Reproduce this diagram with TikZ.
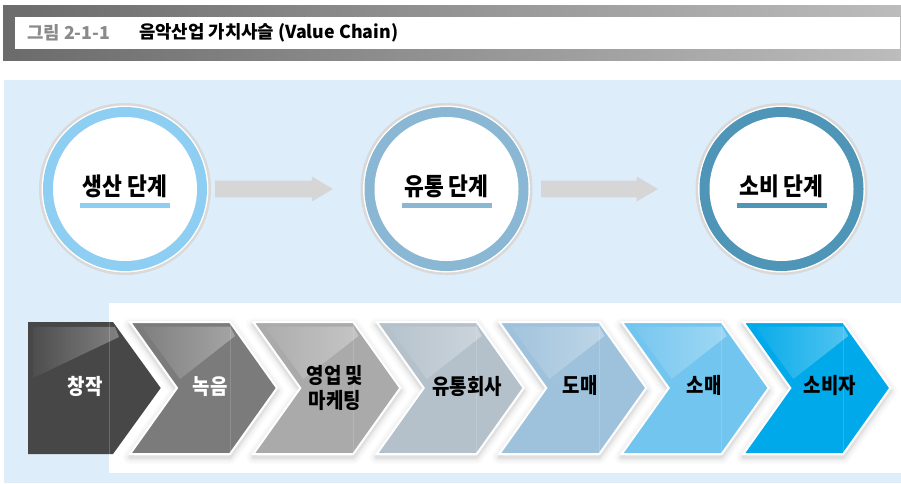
\documentclass[tikz,border=0pt]{standalone}
\usepackage{fontspec}
\newfontfamily\kr{Noto Sans CJK KR}
\newfontfamily\krn{Noto Sans CJK KR}[FakeStretch=0.88]
\usetikzlibrary{calc,fadings}
\definecolor{bgblue}{HTML}{DEEDFA}
\definecolor{ringgray}{HTML}{D9D9D9}
\definecolor{arrgray}{HTML}{D6D6D6}
\definecolor{ringA}{HTML}{8ECEF2}
\definecolor{ringB}{HTML}{8AB7D3}
\definecolor{ringC}{HTML}{4F95B8}
\definecolor{chA}{HTML}{474747}
\definecolor{chB}{HTML}{7B7B7B}
\definecolor{chC}{HTML}{AAAAAA}
\definecolor{chD}{HTML}{B4C1CB}
\definecolor{chE}{HTML}{9FC2DC}
\definecolor{chF}{HTML}{72C5EF}
\definecolor{chG}{HTML}{00A9EA}
\definecolor{titleL}{HTML}{6B6B6B}
\definecolor{titleR}{HTML}{BCBCBC}
\definecolor{titlegray}{HTML}{8A8A8A}
\tikzfading[name=glossfade, left color=transparent!96, right color=transparent!68]
\tikzset{
  chevp/.style={insert path={(0,322) -- (100,322) -- (147,388) -- (100,454) -- (0,454) -- (47,388) -- cycle}},
  stagetext/.style={font=\krn\bfseries\fontsize{24.5}{26}\selectfont, inner sep=0pt, text=black},
  chevtext/.style={font=\krn\bfseries\fontsize{21.5}{25}\selectfont, inner sep=0pt, align=center},
  titlefont/.style={font=\kr\bfseries\fontsize{17.8}{20}\selectfont, inner sep=0pt, anchor=west}
}
\newcommand{\stagecircle}[4]{%
  \node[circle, fill=ringgray, minimum size=172pt, inner sep=0pt] (#1) at (#2,189) {};
  \fill[white] (#1) circle[radius=83.4pt];
  \fill[#3] (#1) circle[radius=82pt];
  \fill[white] (#1) circle[radius=72pt];
  \node[stagetext] (#1t) at ($(#1)+(0,-3)$) {#4};
  \fill[#3] ($(#1)+(-45,14)$) rectangle ($(#1)+(45,19)$);
}
\newcommand{\chevron}[3]{%
  \begin{scope}[shift={(#1,0)}]
    \foreach \w/\o in {14/0.02,10/0.025,6/0.035,3/0.045}{
      \draw[black, opacity=\o, line width=\w pt, line join=round, yshift=-3pt, chevp];
    }
    \fill[#2, draw=white, line width=2pt, chevp];
    \fill[white, path fading=glossfade] (11.7,326.7) -- (100,326.7) -- (105,336) -- (50,379) -- cycle;
    \draw[white, opacity=0.15, line width=0.6pt] (100,323.5) -- (100,452.5);
    \coordinate (#3) at (0,322);
  \end{scope}
}
\begin{document}
\begin{tikzpicture}[x=1pt,y=-1pt]
\useasboundingbox (0,0) rectangle (901,483);
\fill[white] (0,0) rectangle (901,483);
% title bar
\shade[left color=titleL, right color=titleR] (3,5) rectangle (901,60);
\fill[white] (15,17) rectangle (900,49);
\node[titlefont, text=titlegray] (fignum) at (27,33) {그림 2-1-1};
\node[titlefont, text=black] (figtitle) at (139,33) {음악산업 가치사슬 (Value Chain)};
% backgrounds
\fill[bgblue] (4,80) rectangle (901,483);
\fill[white] (109,303) rectangle (901,473);
% stages
\stagecircle{s1}{125}{ringA}{생산 단계}
\stagecircle{s2}{446.5}{ringB}{유통 단계}
\stagecircle{s3}{781.5}{ringC}{소비 단계}
% arrows
\fill[arrgray] ($(s1.east)+(4,-8.3)$) -- ++(96.7,0) -- ++(0,-4.2) -- ++(21,12.5) -- ++(-21,12.5) -- ++(0,-4.2) -- ++(-96.7,0) -- cycle;
\fill[arrgray] ($(s2.east)+(8.5,-8.3)$) -- ++(95.5,0) -- ++(0,-4.2) -- ++(21.3,12.5) -- ++(-21.3,12.5) -- ++(0,-4.2) -- ++(-95.5,0) -- cycle;
% first block
\fill[chA] (28,322) -- (113,322) -- (160.7,388) -- (113,454) -- (28,454) -- cycle;
\fill[white, path fading=glossfade] (33,327) -- (115,327) -- (119,337) -- (33,378) -- cycle;
\draw[white, opacity=0.2, line width=0.6pt] (109,322) -- (109,454);
\coordinate (k1) at (28,322);
% chevrons
\chevron{130}{chB}{k2}
\chevron{253.3}{chC}{k3}
\chevron{376.7}{chD}{k4}
\chevron{499.3}{chE}{k5}
\chevron{621.7}{chF}{k6}
\chevron{743.3}{chG}{k7}
% labels
\node[chevtext, text=white] (l1) at (85,386) {창작};
\node[chevtext, text=white] (l2) at (210,387) {녹음};
\node[chevtext, text=black] (l3) at (335,388) {영업 및\\마케팅};
\node[chevtext, text=black] (l4) at (467,386) {유통회사};
\node[chevtext, text=black] (l5) at (580,385) {도매};
\node[chevtext, text=black] (l6) at (704,385) {소매};
\node[chevtext, text=black] (l7) at (830,385) {소비자};
\end{tikzpicture}
\end{document}
